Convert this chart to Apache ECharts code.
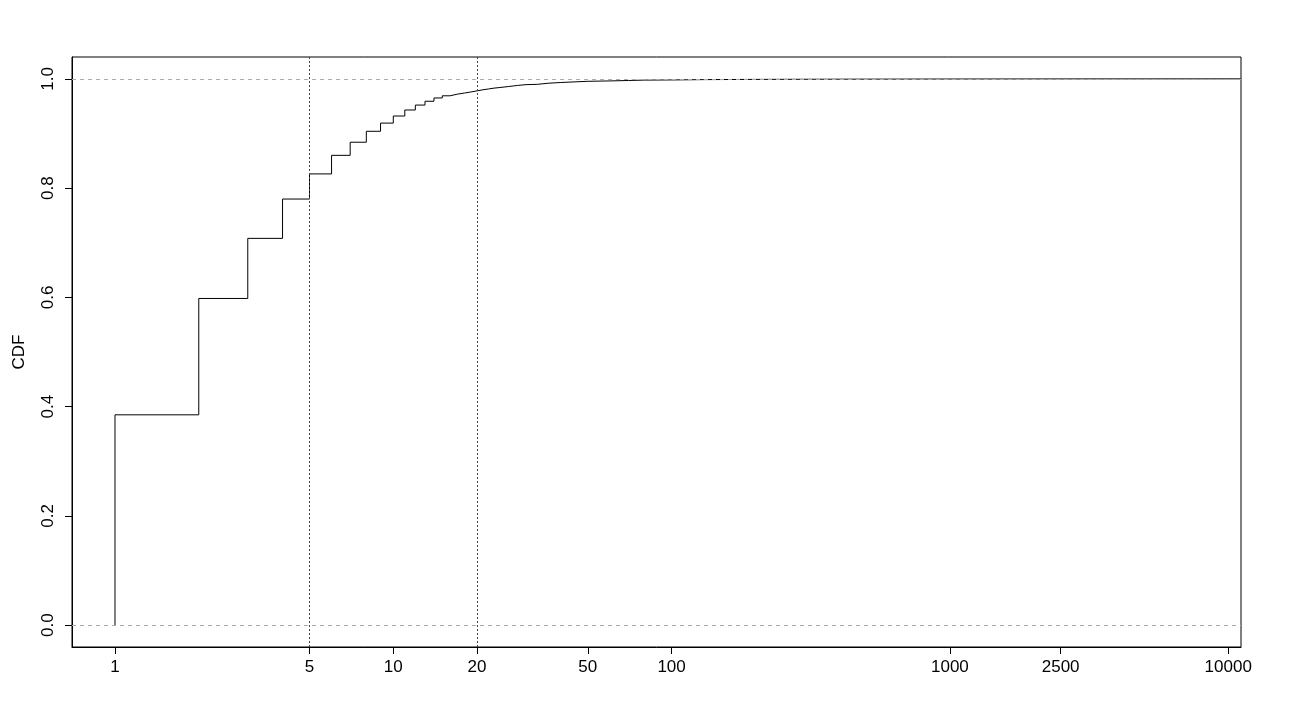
<!DOCTYPE html>
<html>
<head>
<meta charset="utf-8">
<title>CDF</title>
<script src="https://cdn.jsdelivr.net/npm/echarts@6/dist/echarts.min.js"></script>
<style>
	html, body {margin:0; padding:0; background:#fff;}
	#chart {width:1299px; height:705px;}
</style>
</head>
<body>
<div id="chart"></div>
<script>
// ECDF steps (x = value, y = cumulative share)
var cdfX = [1, 1, 2, 3, 4, 5, 6, 7, 8, 9, 10, 11, 12, 13, 14, 15, 16, 17, 18, 19, 20,
	21, 22, 23, 24, 25, 26, 27, 28, 29, 30, 33, 36, 40, 45, 50, 60, 70, 80, 100, 130, 200, 400, 1000, 3000, 11100];
var cdfY = [0, 0.385, 0.598, 0.708, 0.780, 0.826, 0.860, 0.884, 0.904, 0.919, 0.932, 0.943, 0.952, 0.959, 0.965, 0.969, 0.972, 0.974, 0.976, 0.978, 0.980,
	0.9815, 0.983, 0.984, 0.985, 0.986, 0.987, 0.988, 0.9887, 0.9894, 0.990, 0.992, 0.9933, 0.9945, 0.9955, 0.9962, 0.997, 0.9977, 0.998, 0.9986, 0.999, 0.9994, 0.9997, 0.9999, 1.0, 1.0];

var xTicks = [1, 5, 10, 20, 50, 100, 1000, 2500, 10000];
var yTicks = [0, 0.2, 0.4, 0.6, 0.8, 1.0];
var vLines = [5, 20];
var hLines = [0, 1];

var points = [];
for (var i = 0; i < cdfX.length; i++) {
	points.push([cdfX[i], cdfY[i]]);
}

var font = 'Liberation Sans, Arial, Helvetica, sans-serif';

var chart = echarts.init(document.getElementById('chart'), null, {renderer:'canvas'});
var option = {
	backgroundColor:'#fff',
	animation:false,
	grid: {
		left:72, right:58, top:57, bottom:58,
		show:true, borderColor:'#000', borderWidth:1, backgroundColor:'transparent'
	},
	xAxis: {
		type:'log',
		logBase:10,
		min:0.7007,
		max:11117,
		position:'bottom',
		axisLine:{show:true, onZero:false, lineStyle:{color:'#000', width:1}},
		splitLine:{show:false},
		minorTick:{show:false},
		axisTick:{show:true, inside:false, length:7, lineStyle:{color:'#000', width:1}, customValues:xTicks},
		axisLabel:{
			customValues:xTicks,
			color:'#000', fontSize:17, fontFamily:font, margin:12,
			formatter:function(v){ return String(Math.round(v)); }
		}
	},
	yAxis: {
		type:'value',
		min:-0.04,
		max:1.04,
		position:'left',
		name:'CDF',
		nameLocation:'middle',
		nameRotate:90,
		nameGap:44,
		nameTextStyle:{color:'#000', fontSize:17, fontFamily:font},
		axisLine:{show:true, onZero:false, lineStyle:{color:'#000', width:1}},
		splitLine:{show:false},
		axisTick:{show:true, inside:false, length:7, lineStyle:{color:'#000', width:1}, customValues:yTicks},
		axisLabel:{
			customValues:yTicks,
			rotate:90,
			color:'#000', fontSize:17, fontFamily:font, margin:15,
			formatter:function(v){ return (+v).toFixed(1); }
		}
	},
	series: [
		{
			type:'line',
			step:'end',
			data:points,
			showSymbol:false,
			symbol:'none',
			lineStyle:{color:'#000', width:1},
			clip:true,
			silent:true,
			z:3,
			markLine:{
				silent:true,
				symbol:'none',
				label:{show:false},
				data:[
					{xAxis:vLines[0], lineStyle:{color:'#444', type:[2,2], width:1}},
					{xAxis:vLines[1], lineStyle:{color:'#444', type:[2,2], width:1}},
					{yAxis:hLines[0], lineStyle:{color:'#aaa', type:[4,4], width:1}},
					{yAxis:hLines[1], lineStyle:{color:'#aaa', type:[4,4], width:1}}
				]
			}
		}
	]
};
chart.setOption(option);
</script>
</body>
</html>
